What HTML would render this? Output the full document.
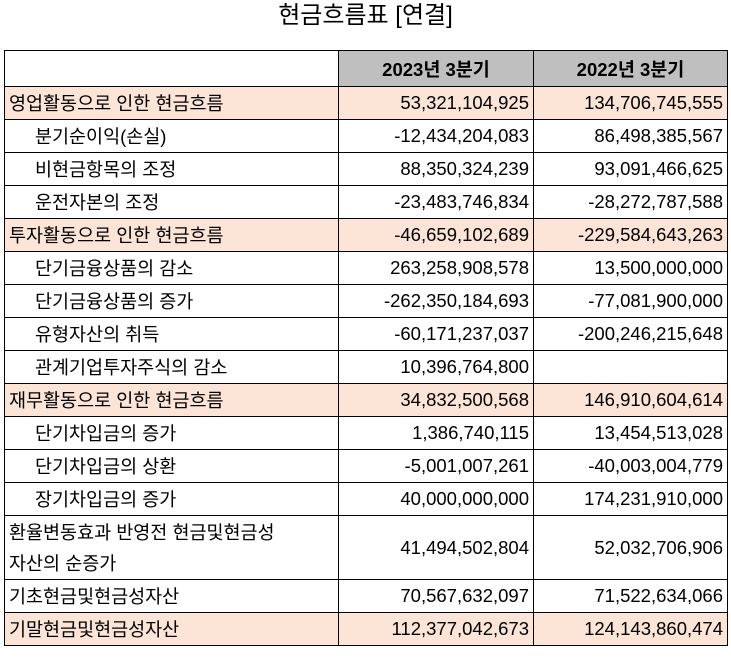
<!DOCTYPE html>
<html><head><meta charset="utf-8"><style>
body{margin:0;width:731px;height:664px;background:#fff;font-family:"Liberation Sans","Noto Sans CJK KR",sans-serif;color:#000;overflow:hidden}
#title{position:absolute;left:0;top:0;width:731px;text-align:center;font-size:24px;line-height:32px}
table{position:absolute;left:4px;top:50px;border-collapse:collapse;table-layout:fixed}
td{border:1.5px solid #000;font-size:18.5px;padding:0 4px;height:33px;white-space:nowrap;overflow:hidden;box-sizing:border-box}
td.n{text-align:right}
th{border:1.5px solid #000;background:#bfbfbf;font-size:18.5px;height:33px;font-weight:bold}
tr.h td{background:#fce4d6}
td.i{padding-left:30px}
</style></head><body>
<div id="title">현금흐름표 [연결]</div>
<table>
<colgroup><col style="width:334px"><col style="width:195px"><col style="width:194px"></colgroup>
<tr><td></td><th>2023년 3분기</th><th>2022년 3분기</th></tr>
<tr class="h"><td>영업활동으로 인한 현금흐름</td><td class="n">53,321,104,925</td><td class="n">134,706,745,555</td></tr>
<tr><td class="i">분기순이익(손실)</td><td class="n">-12,434,204,083</td><td class="n">86,498,385,567</td></tr>
<tr><td class="i">비현금항목의 조정</td><td class="n">88,350,324,239</td><td class="n">93,091,466,625</td></tr>
<tr><td class="i">운전자본의 조정</td><td class="n">-23,483,746,834</td><td class="n">-28,272,787,588</td></tr>
<tr class="h"><td>투자활동으로 인한 현금흐름</td><td class="n">-46,659,102,689</td><td class="n">-229,584,643,263</td></tr>
<tr><td class="i">단기금융상품의 감소</td><td class="n">263,258,908,578</td><td class="n">13,500,000,000</td></tr>
<tr><td class="i">단기금융상품의 증가</td><td class="n">-262,350,184,693</td><td class="n">-77,081,900,000</td></tr>
<tr><td class="i">유형자산의 취득</td><td class="n">-60,171,237,037</td><td class="n">-200,246,215,648</td></tr>
<tr><td class="i">관계기업투자주식의 감소</td><td class="n">10,396,764,800</td><td class="n"></td></tr>
<tr class="h"><td>재무활동으로 인한 현금흐름</td><td class="n">34,832,500,568</td><td class="n">146,910,604,614</td></tr>
<tr><td class="i">단기차입금의 증가</td><td class="n">1,386,740,115</td><td class="n">13,454,513,028</td></tr>
<tr><td class="i">단기차입금의 상환</td><td class="n">-5,001,007,261</td><td class="n">-40,003,004,779</td></tr>
<tr><td class="i">장기차입금의 증가</td><td class="n">40,000,000,000</td><td class="n">174,231,910,000</td></tr>
<tr><td style="height:64px;white-space:normal;line-height:31px">환율변동효과 반영전 현금및현금성<br>자산의 순증가</td><td class="n">41,494,502,804</td><td class="n">52,032,706,906</td></tr>
<tr><td>기초현금및현금성자산</td><td class="n">70,567,632,097</td><td class="n">71,522,634,066</td></tr>
<tr class="h"><td>기말현금및현금성자산</td><td class="n">112,377,042,673</td><td class="n">124,143,860,474</td></tr>
</table>
</body></html>
